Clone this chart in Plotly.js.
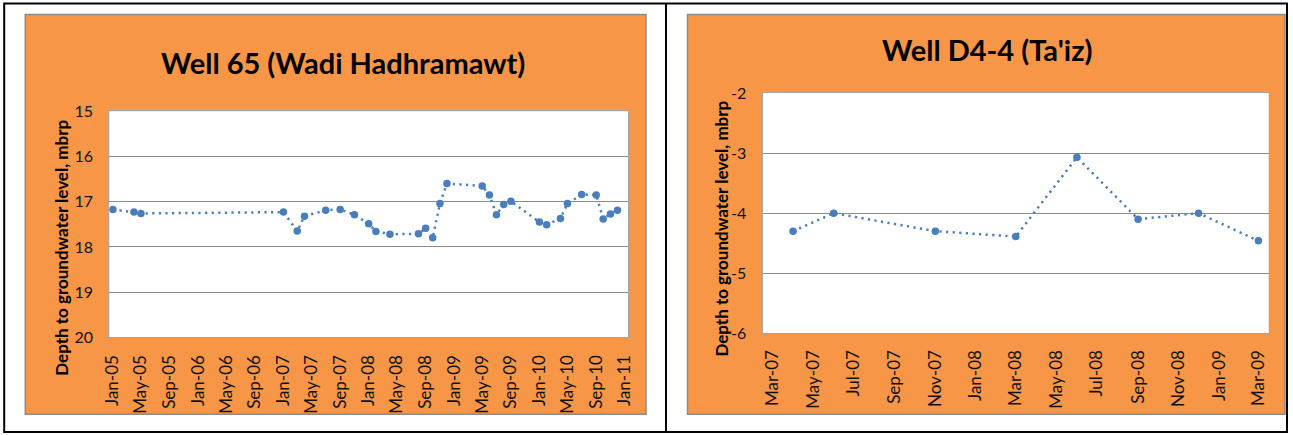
<!DOCTYPE html>
<html>
<head>
<meta charset="utf-8">
<script src="https://cdn.plot.ly/plotly-3.0.1.min.js"></script>
<style>
  html, body { margin: 0; padding: 0; background: #ffffff; }
  #chart { width: 1293px; height: 435px; }
</style>
</head>
<body>
<div id="chart"></div>
<script>
// ---- Data: Well 65 (Wadi Hadhramawt) ----
const well65Dates = ['2005-01-01','2005-04-01','2005-05-01','2007-01-01','2007-03-01','2007-04-01',
  '2007-07-01','2007-09-01','2007-11-01','2008-01-01','2008-02-01','2008-04-01','2008-08-01',
  '2008-09-01','2008-10-01','2008-11-01','2008-12-01','2009-05-01','2009-06-01','2009-07-01',
  '2009-08-01','2009-09-01','2010-01-01','2010-02-01','2010-04-01','2010-05-01','2010-07-01',
  '2010-09-01','2010-10-01','2010-11-01','2010-12-01'];
const well65Depth = [17.17,17.23,17.26,17.23,17.65,17.32,17.19,17.17,17.29,17.49,17.66,17.72,17.71,
  17.59,17.80,17.04,16.60,16.65,16.85,17.29,17.06,16.99,17.45,17.51,17.37,17.04,16.84,
  16.85,17.38,17.27,17.19];
const well65YTicks = [15, 16, 17, 18, 19, 20];

// ---- Data: Well D4-4 (Ta'iz) ----
const wellD4Dates = ['2007-04-01','2007-06-01','2007-11-01','2008-03-01','2008-06-01','2008-09-01','2008-12-01','2009-03-01'];
const wellD4Depth = [-4.30,-4.00,-4.30,-4.39,-3.07,-4.10,-4.00,-4.46];
const wellD4YTicks = [-6, -5, -4, -3, -2];

// ---- Titles / labels ----
const title65 = 'Well 65 (Wadi Hadhramawt)';
const titleD4 = "Well D4-4 (Ta'iz)";
const yLabel = 'Depth to groundwater level, mbrp';

const W = 1293, H = 435;
const px = x => x / W;
const py = y => 1 - y / H;

const FONT = 'Lato, "Open Sans", sans-serif';
const BLUE = '#4a7ebb';
const ORANGE = '#f79646';
const GRID = '#8c8c8c';
const FRAME = '#a6a6a6';

function shiftDays(dateStr, days) {
  const d = new Date(dateStr + 'T00:00:00Z');
  d.setUTCDate(d.getUTCDate() + days);
  return d.toISOString().slice(0, 10);
}
// tick marks sit on month boundaries before every second month label
const d4LabelMonths = ['2007-05-01','2007-07-01','2007-09-01','2007-11-01','2008-01-01','2008-03-01',
  '2008-05-01','2008-07-01','2008-09-01','2008-11-01','2009-01-01','2009-03-01'];
const d4TickVals = d4LabelMonths.map(d => shiftDays(d, -15));

const lineStyle = { color: BLUE, width: 2.5, dash: '2.2px,4.4px' };
const markerStyle = { color: BLUE, size: 7.5 };

const traces = [
  { x: well65Dates, y: well65Depth, type: 'scatter', mode: 'lines+markers',
    line: lineStyle, marker: markerStyle, xaxis: 'x', yaxis: 'y', showlegend: false },
  { x: wellD4Dates, y: wellD4Depth, type: 'scatter', mode: 'lines+markers',
    line: lineStyle, marker: markerStyle, xaxis: 'x2', yaxis: 'y2', showlegend: false }
];

const yTickFont = { family: FONT, size: 16, color: '#111' };
const xTickFont = { family: FONT, size: 17, color: '#111' };

const P1 = { l: 109.3, r: 628.3, t: 111.3, b: 337.3 };
const P2 = { l: 762.5, r: 1268.7, t: 93, b: 333.3 };

const layout = {
  width: W, height: H,
  margin: { l: 0, r: 0, t: 0, b: 0, pad: 0 },
  paper_bgcolor: '#ffffff',
  plot_bgcolor: 'rgba(0,0,0,0)',
  showlegend: false,
  xaxis: {
    domain: [px(P1.l), px(P1.r)], anchor: 'y', type: 'date',
    range: ['2004-12-16 12:00', '2011-01-16 12:00'],
    tick0: '2005-01-01', dtick: 'M4', tickformat: '%b-%y', tickangle: -90,
    ticks: '', showgrid: false, zeroline: false,
    showline: true, linecolor: FRAME, linewidth: 1, mirror: true,
    tickfont: xTickFont, ticklabelstandoff: 10
  },
  yaxis: {
    domain: [py(P1.b), py(P1.t)], anchor: 'x',
    range: [20, 15], tickmode: 'array', tickvals: well65YTicks, ticktext: well65YTicks.map(String),
    showgrid: true, gridcolor: GRID, gridwidth: 1, zeroline: false,
    showline: true, linecolor: FRAME, linewidth: 1, mirror: true,
    ticks: '', tickfont: yTickFont, ticklabelstandoff: 12
  },
  xaxis2: {
    domain: [px(P2.l), px(P2.r)], anchor: 'y2', type: 'date',
    range: ['2007-02-14', '2009-03-16 12:00'],
    tick0: '2007-03-01', dtick: 'M2', tickformat: '%b-%y', tickangle: -90,
    ticks: '', showgrid: false, zeroline: false,
    showline: true, linecolor: FRAME, linewidth: 1, mirror: true,
    tickfont: xTickFont, ticklabelstandoff: 9
  },
  xaxis3: {
    overlaying: 'x2', anchor: 'y2', side: 'top', type: 'date',
    range: ['2007-02-14', '2009-03-16 12:00'],
    tickmode: 'array', tickvals: d4TickVals, ticktext: d4TickVals.map(() => ''),
    ticks: 'inside', ticklen: 6, tickcolor: '#909090', tickwidth: 1,
    showticklabels: false, showgrid: false, zeroline: false, showline: false
  },
  yaxis2: {
    domain: [py(P2.b), py(P2.t)], anchor: 'x2',
    range: [-6, -2], tickmode: 'array', tickvals: wellD4YTicks, ticktext: wellD4YTicks.map(String),
    showgrid: true, gridcolor: GRID, gridwidth: 1, zeroline: false,
    showline: true, linecolor: FRAME, linewidth: 1, mirror: true,
    ticks: '', tickfont: yTickFont, ticklabelstandoff: 12
  },
  shapes: [
    // orange chart areas
    { type: 'rect', xref: 'paper', yref: 'paper', layer: 'below',
      x0: px(25.3), x1: px(646), y0: py(414.3), y1: py(14.5),
      fillcolor: ORANGE, line: { color: '#8c8c8c', width: 1.5 } },
    { type: 'rect', xref: 'paper', yref: 'paper', layer: 'below',
      x0: px(687.5), x1: px(1285), y0: py(414.3), y1: py(14.5),
      fillcolor: ORANGE, line: { color: '#8c8c8c', width: 1.5 } },
    // white plot areas
    { type: 'rect', xref: 'paper', yref: 'paper', layer: 'below',
      x0: px(P1.l), x1: px(P1.r), y0: py(P1.b), y1: py(P1.t),
      fillcolor: '#ffffff', line: { width: 0 } },
    { type: 'rect', xref: 'paper', yref: 'paper', layer: 'below',
      x0: px(P2.l), x1: px(P2.r), y0: py(P2.b), y1: py(P2.t),
      fillcolor: '#ffffff', line: { width: 0 } },
    // outer black frame and divider
    { type: 'rect', xref: 'paper', yref: 'paper', layer: 'above',
      x0: px(4.2), x1: px(1287), y0: py(432), y1: py(3.5),
      line: { color: '#000', width: 2 } },
    { type: 'line', xref: 'paper', yref: 'paper', layer: 'above',
      x0: px(666), x1: px(666), y0: py(432), y1: py(3.5),
      line: { color: '#000', width: 2 } }
  ],
  annotations: [
    { text: '<b>' + title65 + '</b>', xref: 'paper', yref: 'paper',
      x: px(342.7), y: py(62), xanchor: 'center', yanchor: 'middle', showarrow: false,
      font: { family: FONT, size: 29, color: '#000' } },
    { text: '<b>' + titleD4 + '</b>', xref: 'paper', yref: 'paper',
      x: px(986.7), y: py(50), xanchor: 'center', yanchor: 'middle', showarrow: false,
      font: { family: FONT, size: 29, color: '#000' } },
    { text: '<b>' + yLabel + '</b>', xref: 'paper', yref: 'paper', textangle: -90,
      x: px(60.7), y: py(248), xanchor: 'center', yanchor: 'middle', showarrow: false,
      font: { family: FONT, size: 17, color: '#000' } },
    { text: '<b>' + yLabel + '</b>', xref: 'paper', yref: 'paper', textangle: -90,
      x: px(720.6), y: py(229), xanchor: 'center', yanchor: 'middle', showarrow: false,
      font: { family: FONT, size: 17, color: '#000' } }
  ]
};

Plotly.newPlot('chart', traces, layout, { displayModeBar: false, staticPlot: true });
</script>
</body>
</html>
